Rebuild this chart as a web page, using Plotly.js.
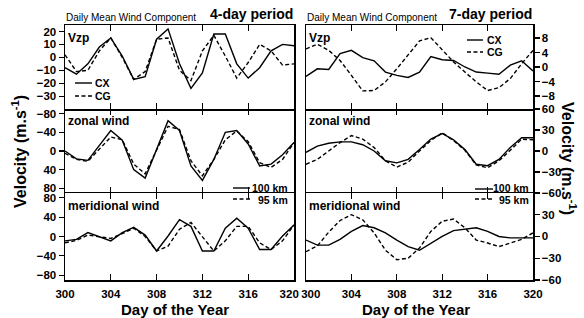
<!DOCTYPE html>
<html>
<head>
<meta charset="utf-8">
<script src="https://cdn.plot.ly/plotly-3.0.1.min.js"></script>
<style>html,body{margin:0;padding:0;background:#fff;}#chart{width:584px;height:318px;}</style>
</head>
<body>
<div id="chart"></div>
<script>
// ---------- DATA ----------
const days = [300,301,302,303,304,305,306,307,308,309,310,311,312,313,314,315,316,317,318,319,320];

// 4-day period (left)
const vzp4CX    = [-8,-13,-5,8,15,1,-17,-15,14,22,-5,-24,-12,18,18,-5,-16,-8,5,10,9];
const vzp4CG    = [2,-11,-10,5,15,0,-17,-11,14,15,-10,-18,5,17,1,-16,-4,10,5,-6,-5];
const zonal4_100 = [0,17,20,-12,-44,-23,40,58,-4,-65,-44,32,63,18,-40,-44,-15,32,28,8,-18];
const zonal4_95  = [5,18,22,-5,-30,-24,28,49,-2,-53,-46,21,53,18,-24,-43,-20,25,35,18,-18];
const merid4_100 = [-9,-6,8,0,-9,8,19,3,-30,1,35,21,-30,-30,17,38,17,-27,-27,1,24];
const merid4_95  = [-13,-8,3,0,-4,6,17,0,-30,-20,15,29,0,-30,-9,21,21,-13,-27,-9,24];

// 7-day period (right)
const vzp7CX    = [-2.6,-0.5,-0.7,3.7,4.6,2.6,1.7,-1.4,-2.3,-2.9,-1.4,2.9,2.0,1.8,0,-1.4,-1.7,-2.0,0.5,1.7,-1.1];
const vzp7CG    = [5,6.3,4.6,1.8,-2.3,-6.6,-6.5,-4.1,-0.5,3.2,7.2,8.1,4.8,1.4,-1.4,-4.1,-6.5,-5.7,-3.2,0.9,4.6];
const zonal7_100 = [-2,7,11,13,13,9,0,-14,-17,-12,2,17,25,16,2,-19,-21,-12,5,19,19];
const zonal7_95  = [-19,-12,0,12,22,17,5,-14,-23,-16,0,15,26,15,1,-20,-24,-14,1,17,16];
const merid7_100 = [-5,-12,-12,-4,7,15,12,5,-5,-14,-19,-9,0,8,10,12,7,0,-2,-2,-2];
const merid7_95  = [-21,-13,6,22,30,23,5,-19,-32,-30,-16,7,21,24,12,-5,-9,-14,-9,-4,5];

// tick labels
const xTicks = [300,304,308,312,316,320];
const yTicksVzp4 = [-30,-20,-10,0,10,20];
const yTicksWind4 = [-80,-40,0,40,80];
const yTicksVzp7 = [-8,-4,0,4,8];
const yTicksZonal7 = [-60,-30,0,30,60];
const yTicksMerid7 = [-60,-30,0,30];

// ---------- STYLE ----------
const W = 584, H = 318;
const FONT = 'Liberation Sans, Arial, sans-serif';
const px = v => v / W;
const py = v => 1 - v / H;
const DASH = '4px,2.5px';
const LW = 1.4;
const TICKFONT = {family: FONT, size: 11.5, color: 'black', weight: 'bold'};
const NB = '\u00a0\u00a0\u00a0';
const XR = [300, 320];

function tr(y, xa, ya, dashed) {
  return {x: days, y: y, xaxis: xa, yaxis: ya, type: 'scatter', mode: 'lines',
    line: {color: 'black', width: LW, dash: dashed ? DASH : 'solid'}, showlegend: false, hoverinfo: 'skip'};
}

const traces = [
  tr(merid4_100,'x','y',false), tr(merid4_95,'x','y',true),
  tr(merid7_100,'x2','y2',false), tr(merid7_95,'x2','y2',true),
  tr(zonal4_100,'x3','y3',false), tr(zonal4_95,'x3','y3',true),
  tr(zonal7_100,'x4','y4',false), tr(zonal7_95,'x4','y4',true),
  tr(vzp4CX,'x5','y5',false), tr(vzp4CG,'x5','y5',true),
  tr(vzp7CX,'x6','y6',false), tr(vzp7CG,'x6','y6',true)
];

const xL = [px(65), px(294)], xR = [px(306), px(533)];
const yTop = [py(109), py(25)], yMid = [py(193), py(109)], yBot = [py(280), py(193)];

function xax(domain, anchor, labels, line, alias) {
  const a = {domain: domain, anchor: anchor, range: XR, showline: line, linecolor: 'black', linewidth: 1.5,
    mirror: 'allticks', ticks: 'inside', ticklen: 6, tickwidth: 1.2, tickcolor: 'black',
    tickmode: 'linear', tick0: xTicks[0], dtick: xTicks[1] - xTicks[0], showticklabels: labels,
    ticklabelstandoff: 3,
    tickfont: TICKFONT,
    showgrid: false, zeroline: false, fixedrange: true};
  if (alias) a.labelalias = alias;
  return a;
}
// minor-tick axis overlaid on a panel's x axis
function xminor(over, anchor) {
  return {overlaying: over, anchor: anchor, range: XR, showline: false, mirror: 'allticks',
    ticks: 'inside', ticklen: 3.5, tickwidth: 1, tickcolor: 'black',
    tickmode: 'linear', tick0: XR[0], dtick: 1, showticklabels: false,
    showgrid: false, zeroline: false, fixedrange: true};
}
function yax(domain, anchor, side, range, tickvals) {
  return {domain: domain, anchor: anchor, side: side, range: range, showline: true, linecolor: 'black', linewidth: 1.5,
    mirror: true, ticks: 'outside', ticklen: 5, tickwidth: 1.2, tickcolor: 'black',
    tickmode: 'linear', tick0: 0, dtick: tickvals[1] - tickvals[0],
    tickfont: TICKFONT,
    showgrid: false, zeroline: false, fixedrange: true};
}
function yminor(over, anchor, side, range, tickvals) {
  return {overlaying: over, anchor: anchor, side: side, range: range, showline: false,
    ticks: 'outside', ticklen: 3, tickwidth: 1, tickcolor: 'black',
    tickmode: 'linear', tick0: 0, dtick: (tickvals[1] - tickvals[0]) / 2, showticklabels: false,
    showgrid: false, zeroline: false, fixedrange: true};
}

function ann(text, x, y, xanchor, size, bold, extra) {
  return Object.assign({text: text, xref: 'paper', yref: 'paper', x: px(x), y: py(y), xanchor: xanchor, yanchor: 'middle',
    showarrow: false, borderpad: 0,
    font: {family: FONT, size: size, color: 'black', weight: bold ? 'bold' : 'normal'}}, extra || {});
}
function legLine(x0, x1, y, dashed) {
  return {type: 'line', xref: 'paper', yref: 'paper', x0: px(x0), x1: px(x1), y0: py(y), y1: py(y),
    line: {color: 'black', width: LW, dash: dashed ? DASH : 'solid'}};
}

const annotations = [
  ann('Daily Mean Wind Component', 65, 18, 'left', 10, false),
  ann('4-day period', 294, 14, 'right', 14, true),
  ann('Daily Mean Wind Component', 306, 18, 'left', 10, false),
  ann('7-day period', 533, 14, 'right', 14, true),
  ann('Vzp', 67, 38, 'left', 12, true),
  ann('zonal wind', 67, 121, 'left', 12, true),
  ann('meridional wind', 67, 206, 'left', 12, true),
  ann('Vzp', 308, 38, 'left', 12, true),
  ann('zonal wind', 308, 121, 'left', 12, true),
  ann('meridional wind', 308, 206, 'left', 12, true),
  // legends
  ann('CX', 94, 83, 'left', 10.5, true),
  ann('CG', 94, 96, 'left', 10.5, true),
  ann('CX', 486, 40, 'left', 10.5, true),
  ann('CG', 486, 52, 'left', 10.5, true),
  ann('100 km', 289, 187.5, 'right', 10.5, true),
  ann('95 km', 289, 199.5, 'right', 10.5, true),
  ann('100 km', 530, 188, 'right', 10.5, true),
  ann('95 km', 530, 200, 'right', 10.5, true),
  // axis titles
  ann('Day of the Year', 175, 309, 'center', 15, true),
  ann('Day of the Year', 416, 309, 'center', 15, true),
  ann('Velocity (m.s<sup>-1</sup>)', 19, 152, 'center', 16, true, {textangle: -90}),
  ann('Velocity (m.s<sup>-1</sup>)', 569, 158, 'center', 16, true, {textangle: 90})
];

const shapes = [
  legLine(75, 92, 83, false), legLine(75, 92, 96, true),
  legLine(467, 483, 40, false), legLine(467, 483, 52, true),
  legLine(233, 250, 188, false), legLine(233, 250, 199, true),
  legLine(475, 493, 189, false), legLine(475, 493, 199, true)
];

const aliasL = {}; aliasL[String(xTicks[xTicks.length - 1])] = String(xTicks[xTicks.length - 1]) + NB;
const aliasR = {}; aliasR[String(xTicks[0])] = NB + String(xTicks[0]);

const rBot = [-90, 90], rBotR = [-60, 59.9], rMid = [90, -90], rMidR = [-60, 60], rTop = [-39.9, 25], rTopR = [-11.6, 11.6];

const layout = {
  width: W, height: H, autosize: false,
  margin: {l: 0, r: 0, t: 0, b: 0, pad: 0},
  paper_bgcolor: 'white', plot_bgcolor: 'white',
  showlegend: false,
  font: {family: FONT, color: 'black'},
  xaxis:  xax(xL, 'y',  true, true, aliasL),
  xaxis2: xax(xR, 'y2', true, true, aliasR),
  xaxis3: xax(xL, 'y3', false, false),
  xaxis4: xax(xR, 'y4', false, false),
  xaxis5: xax(xL, 'y5', false, true),
  xaxis6: xax(xR, 'y6', false, true),
  xaxis7:  xminor('x',  'y'),
  xaxis8:  xminor('x2', 'y2'),
  xaxis9:  xminor('x3', 'y3'),
  xaxis10: xminor('x4', 'y4'),
  xaxis11: xminor('x5', 'y5'),
  xaxis12: xminor('x6', 'y6'),
  yaxis:  yax(yBot, 'x',  'left',  rBot, yTicksWind4),
  yaxis2: yax(yBot, 'x2', 'right', rBotR, yTicksMerid7),
  yaxis3: yax(yMid, 'x3', 'left',  rMid, yTicksWind4),
  yaxis4: yax(yMid, 'x4', 'right', rMidR, yTicksZonal7),
  yaxis5: yax(yTop, 'x5', 'left',  rTop, yTicksVzp4),
  yaxis6: yax(yTop, 'x6', 'right', rTopR, yTicksVzp7),
  yaxis7:  yminor('y',  'x',  'left',  rBot, yTicksWind4),
  yaxis8:  yminor('y2', 'x2', 'right', rBotR, yTicksMerid7),
  yaxis9:  yminor('y3', 'x3', 'left',  rMid, yTicksWind4),
  yaxis10: yminor('y4', 'x4', 'right', rMidR, yTicksZonal7),
  yaxis11: yminor('y6', 'x6', 'right', rTopR, yTicksVzp7),
  annotations: annotations,
  shapes: shapes
};

Plotly.newPlot('chart', traces, layout, {displayModeBar: false, staticPlot: true});
</script>
</body>
</html>
